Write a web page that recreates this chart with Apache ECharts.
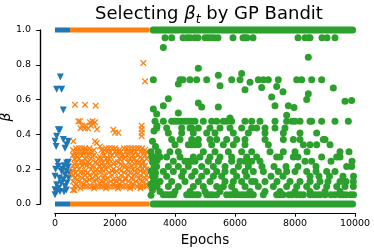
<!DOCTYPE html>
<html><head><meta charset="utf-8">
<script src="https://cdn.jsdelivr.net/npm/echarts@6/dist/echarts.min.js"></script>
<style>html,body{margin:0;padding:0;background:#fff}#c{width:374px;height:249px}</style>
</head><body><div id="c"></div>
<script>
// x-axis ticks and y-axis ticks
const xTicks = [0, 2000, 4000, 6000, 8000, 10000];
const yTicks = [0.0, 0.2, 0.4, 0.6, 0.8, 1.0];

// continuous runs of selections at the bounds (epoch start, epoch end, beta)
const blueBands = [[0, 500, 1.0], [0, 500, 0.0]];
const orangeBands = [[500, 3150, 1.0], [500, 3150, 0.0]];
const greenBands = [[3270, 9920, 1.0], [3270, 9920, 0.0]];

// blue (epochs 0-500)
const bluePoints = [[0,0.053],[0,0.082],[55,0.11],[0,0.16],[111,0.216],[222,0.187],[278,0.14],[333,0.168],[333,0.1],[167,0.072],
 [389,0.235],[444,0.24],[430,0.21],[400,0.12],[450,0.15],[300,0.07],[120,0.09],[111,0.427],[160,0.425],[55,0.39],[0,0.36],
 [40,0.33],[277,0.37],[389,0.34],[444,0.36],[333,0.32],[177,0.73],[55,0.66],[222,0.66],[278,0.54],[250,0.2],[470,0.18],
 [200,0.12],[380,0.08],[90,0.24],[20,0.2],[300,0.22],[150,0.15],[60,0.07],[380,0.19]];

// orange (epochs 500-3100): isolated points
const orangePoints = [[667,0.57],[1000,0.57],[1356,0.565],[778,0.475],[833,0.475],[1167,0.47],[1250,0.475],[1333,0.47],[1278,0.46],
 [900,0.45],[1000,0.45],[1200,0.45],[1100,0.435],[850,0.435],[1000,0.435],[1400,0.43],[1944,0.427],[2000,0.41],[2111,0.41],
 [2889,0.45],[2889,0.43],[2889,0.41],[2889,0.39],[2944,0.81],[3000,0.705],[611,0.36],[1389,0.35],[1500,0.33],[1333,0.36]];
// orange: dense rows (beta value, epochs)
const orangeRowBeta = [0.32,0.31,0.30,0.28,0.27,0.26,0.24,0.23,0.22,0.20,0.19,0.18,0.165,0.15,0.14,0.13,0.115,0.10,0.09,0.08];
const orangeRowEpochs = [
 [700,800,900,1000,1150,1700,1800,1900,2000,2300,2400,2500,2600,2700,2800,2900],
 [600,1000,1300,1550,1650,2050,2150,2650,3000],
 [650,750,850,950,1050,1150,1250,1600,1750,1850,2000,2100,2200,2350,2450,2550,2700,2850,2950,3050],
 [600,700,900,1100,1300,1650,1900,2050,2250,2400,2600,2750,3000],
 [750,1050,1250,1500,1850,2200,2350,2550,2850],
 [650,800,1000,1200,1450,1550,1700,1800,2150,2300,2500,2650,2900,3050],
 [700,850,950,1100,1350,1600,1750,2000,2100,2450,2700,2800,2950],
 [650,1000,1150,1400,1550,1800,1950,2200,2500,2650,2900],
 [600,750,900,1050,1250,1500,1650,1850,2250,2350,2550,2850,3000],
 [650,800,1200,1400,1550,1700,1950,2150,2400,2600,2750,2900,3050],
 [600,1000,1350,1600,1900,2050,2200,2450,2650,2850,3000],
 [550,700,850,950,1100,1300,1500,1800,2000,2300,2500,2700,2950],
 [600,750,1000,1150,1350,1650,1900,2200,2450,2650,2850,3050],
 [650,900,1250,1450,1600,1750,2100,2350,2550,2800,3000],
 [750,1000,1150,1400,1700,1950,2150,2350,2600,2850,3050],
 [600,800,1050,1300,1550,1850,2050,2250,2450,2700,2900],
 [700,950,1500,1700,1950,2150,2600,2800,3050],
 [650,750,900,1000,1100,1200,1300,1400,1500,1600,1700,1800,1900,2000,2100,2200,2300,2400,2500,2600,2750,2850,2950,3050],
 [850,1300,1700,2100,2500,2850],
 [600,650]
];

// green (epochs 3200-10000): isolated points
const greenPoints = [[3611,0.90],[8444,0.843],[4778,0.78],[6222,0.75],[5444,0.74],[4111,0.69],[5500,0.68],[6500,0.70],[6333,0.657],
 [6889,0.67],[7389,0.676],[7600,0.645],[7222,0.615],[8444,0.634],[8389,0.60],[9278,0.667],[9667,0.59],[9889,0.595],
 [3778,0.605],[3611,0.565],[3278,0.546],[3389,0.517],[4111,0.523],[4778,0.58],[4889,0.557],[5444,0.557],[7333,0.565],
 [7778,0.565],[7967,0.555],[7722,0.51],[5833,0.494],[3200,0.05],[3250,0.08],[3200,0.11],[3300,0.13],[3250,0.16],[3200,0.19],
 [3300,0.21],[3250,0.24],[3300,0.27],[3200,0.30],[3350,0.33],[3250,0.36],[3300,0.42],[3400,0.45],[3350,0.18],[3400,0.10],[3400,0.25]];
// green: rows (beta value, epochs)
const greenRowBeta = [0.955,0.714,0.475,0.437,0.408,0.37,0.34,0.30,0.27,0.245,0.216,0.187,0.159,0.13,0.10,0.072,0.053];
const greenRowEpochs = [
 [3667,3889,4267,4400,4500,4650,4767,5000,5100,5200,5300,5433,5933,6267,6333,6400,6600,8100,8333,8450,8500,8900,9067,9333],
 [3278,4167,4267,4500,4722,5056,5889,6167,6778,6944,7111,7444,8056,8222,8556,8889],
 [3333,3611,3889,4000,4111,4222,4333,4444,4556,4667,4944,5222,5389,5611,5722,5889,6333,6556,6833,7333,7722,7900,8000,8167,8500,8556,8889,9333,9778],
 [3389,3722,4222,4500,4556,4778,5167,5500,5833,6222,6556,6722,7333,7667,7000],
 [3778,4222,4611,5056,5333,5944,6444,7000,7611,8167,8722],
 [3889,4167,4556,4778,5167,5389,5722,6056,6333,7000,7944,8167,8944,9000,7611],
 [4000,4444,4556,4667,4778,5222,5611,5944,6333,7111,8278,8722,9167,8500],
 [3444,3833,4111,4944,5333,5778,6222,6556,7611,7167,8000,8400,9500,9800],
 [3222,3333,3500,3722,4167,4611,4833,5167,5500,5889,6389,6722,7389,7500,7944,8100,8889,9389,9500],
 [3278,3944,4333,4444,4556,4667,5111,5444,5889,6167,6333,6444,6556,6833,8333,8556,9200,9900],
 [3389,3778,4111,4444,4889,5278,5667,6111,6444,6900,7300,7700,8100,8700,9722,9889],
 [3222,3611,3944,4278,4667,5056,5389,5667,5944,6333,6611,6944,7444,7722,8000,8389,8700,9056,9333],
 [3333,3722,4222,4556,4889,5278,5556,6056,6389,7200,7600,8500,8800,9150,9600,9950],
 [3278,3500,3889,4333,4778,5167,5667,5944,6222,6556,6667,7000,7400,7833,8167,8500,8833,9100,9500,9700,9944],
 [3389,3778,4111,4611,4944,5389,5611,5889,6333,6778,7278,7722,8056,8389,8722,9056,9389,9667,9944],
 [3500,4000,4500,5000,5500,6000,6500,7000,7500,8000,8500,9000,9500],
 [3611,3700,3800,3889,3960,4389,4500,4600,4700,4778,5056,5150,5250,5389,5722,5850,6000,6111,6222,6333,6450,6556,6611,6944,
  7389,7500,7600,7800,7900,8056,8167,8278,8500,8611,8722,8833,9000,9200,9333,9500,9600,9700,9850,9950]
];

const C_BLUE = '#1f77b4', C_ORANGE = '#ff7f0e', C_GREEN = '#2ca02c';
const FONT = 'DejaVu Sans';
const X_PATH = 'path://M0,1.4L1.4,0L5,3.6L8.6,0L10,1.4L6.4,5L10,8.6L8.6,10L5,6.4L1.4,10L0,8.6L3.6,5Z';

function rows(betas, epochs) {
  const out = [];
  betas.forEach((b, i) => epochs[i].forEach(e => out.push([e, b])));
  return out;
}
function bandSeries(bands, color, width, cap) {
  return bands.map(b => ({
    type: 'line', data: [[b[0], b[2]], [b[1], b[2]]], symbol: 'none', clip: false, silent: true,
    lineStyle: { color: color, width: width, cap: cap }
  }));
}

const chart = echarts.init(document.getElementById('c'), null, { renderer: 'canvas' });
chart.setOption({
  animation: false,
  title: {
    text: '{a|Selecting }{b|β}{s|t}{a| by GP Bandit}',
    left: 204, top: -1, textAlign: 'center',
    textStyle: { fontWeight: 'normal', rich: {
      a: { fontSize: 18, fontFamily: FONT, fontWeight: 'normal', color: '#000', lineHeight: 20 },
      b: { fontSize: 18, fontFamily: FONT, fontWeight: 'normal', fontStyle: 'italic', color: '#000', lineHeight: 20 },
      s: { fontSize: 12.5, fontFamily: FONT, fontWeight: 'normal', fontStyle: 'italic', color: '#000', lineHeight: 14, padding: [11, 0, 0, 0] }
    } }
  },
  grid: { left: 55, right: 19, top: 30, bottom: 45, outerBoundsMode: 'none' },
  xAxis: [{
    type: 'value', position: 'bottom', min: xTicks[0], max: xTicks[xTicks.length - 1], interval: 2000, offset: 9,
    name: 'Epochs', nameLocation: 'middle', nameGap: 17,
    nameTextStyle: { fontSize: 13.5, fontFamily: FONT, color: '#000' },
    axisLine: { show: true, onZero: false, lineStyle: { color: '#000', width: 1.2 } },
    axisTick: { show: true, length: 3.5, lineStyle: { color: '#000', width: 1 } },
    axisLabel: { fontSize: 9.5, fontFamily: FONT, color: '#000', margin: 6, formatter: v => String(v) },
    splitLine: { show: false }
  }, {
    type: 'value', position: 'bottom', min: xTicks[0], max: xTicks[xTicks.length - 1], interval: 2000, offset: 9,
    axisLine: { show: true, onZero: false, lineStyle: { color: '#000', width: 1.2 } },
    axisTick: { show: true, length: 3.5 },
    axisLabel: { show: false }, splitLine: { show: false }
  }],
  yAxis: [{
    type: 'value', position: 'left', min: yTicks[0], max: yTicks[yTicks.length - 1], interval: 0.2, offset: 15,
    name: 'β', nameLocation: 'middle', nameGap: 27, nameRotate: 90, nameMoveOverlap: false,
    nameTextStyle: { fontSize: 14, fontFamily: FONT, fontStyle: 'italic', color: '#000' },
    axisLine: { show: true, onZero: false, lineStyle: { color: '#000', width: 1.2 } },
    axisTick: { show: true, length: 3.5, lineStyle: { color: '#000', width: 1 } },
    axisLabel: { fontSize: 9.5, fontFamily: FONT, color: '#000', margin: 9, formatter: v => v.toFixed(1) },
    splitLine: { show: false }
  }, {
    type: 'value', position: 'left', min: yTicks[0], max: yTicks[yTicks.length - 1], interval: 0.2, offset: 15,
    axisLine: { show: true, onZero: false, lineStyle: { color: '#000', width: 1.2 } },
    axisTick: { show: true, length: 3.5 },
    axisLabel: { show: false }, splitLine: { show: false }
  }],
  series: [
    ...bandSeries(blueBands, C_BLUE, 5, 'butt'),
    { type: 'scatter', data: bluePoints, symbol: 'triangle', symbolRotate: 180, symbolSize: 7, clip: false,
      itemStyle: { color: C_BLUE, opacity: 1 } },
    ...bandSeries(orangeBands, C_ORANGE, 5, 'butt'),
    { type: 'scatter', data: orangePoints.concat(rows(orangeRowBeta, orangeRowEpochs)), symbol: X_PATH, symbolSize: 6.5, clip: false,
      itemStyle: { color: C_ORANGE, opacity: 1 } },
    ...bandSeries(greenBands, C_GREEN, 7, 'round'),
    { type: 'scatter', data: greenPoints.concat(rows(greenRowBeta, greenRowEpochs)), symbol: 'circle', symbolSize: 7, clip: false,
      itemStyle: { color: C_GREEN, opacity: 1 } },
    { type: 'scatter', xAxisIndex: 1, yAxisIndex: 1, data: [], silent: true }
  ]
});
</script>
</body></html>
